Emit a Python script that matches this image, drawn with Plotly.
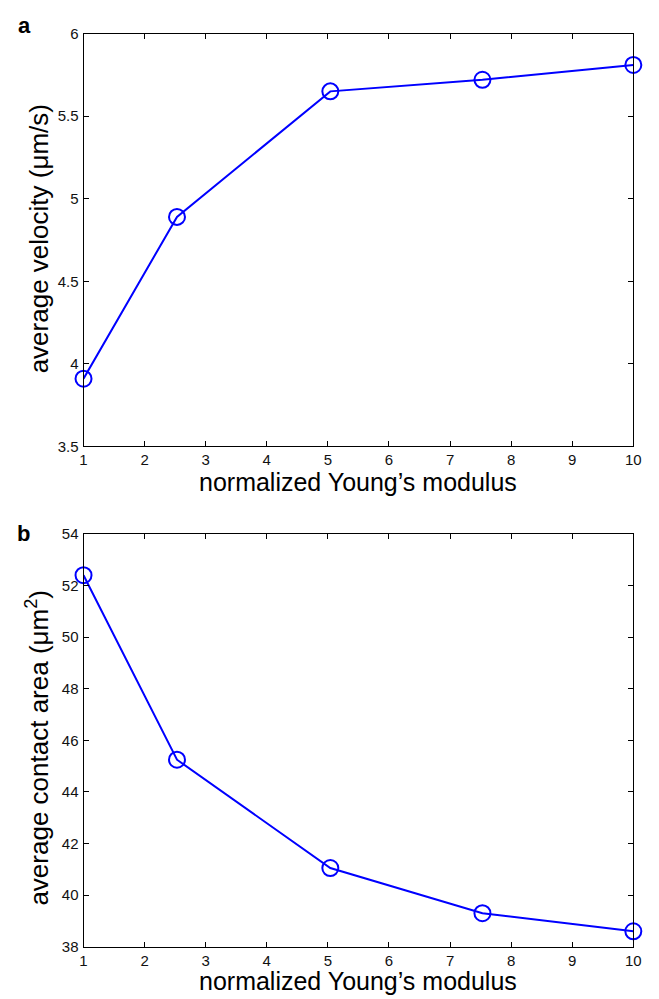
import plotly.graph_objects as go

# Data
modulus = [1, 2.53, 5.04, 7.53, 10]
velocity = [3.91, 4.89, 5.65, 5.72, 5.81]
contact_area = [52.4, 45.25, 41.05, 39.3, 38.6]

x_ticks = list(range(1, 11))
vel_ticks = [3.5, 4, 4.5, 5, 5.5, 6]
vel_tick_text = ["3.5", "4", "4.5", "5", "5.5", "6"]
area_ticks = [38, 40, 42, 44, 46, 48, 50, 52, 54]

W, H = 659, 999
FONT = "Liberation Sans, Arial, Helvetica, sans-serif"
BLUE = "#0000ff"

x0, x1 = 81, 641
a_top, a_bot = 25, 445
b_top, b_bot = 534, 954

def ydom(top, bot):
    return [1 - bot / H, 1 - top / H]

fig = go.Figure()
for xs, ys, ya in [(modulus, velocity, "y"), (modulus, contact_area, "y2")]:
    fig.add_trace(go.Scatter(
        x=xs, y=ys, xaxis="x" if ya == "y" else "x2", yaxis=ya,
        mode="lines+markers",
        line=dict(color=BLUE, width=2),
        marker=dict(symbol="circle-open", size=16, color=BLUE, line=dict(width=2, color=BLUE)),
        showlegend=False, cliponaxis=False,
    ))

axis_common = dict(
    showline=True, linecolor="black", linewidth=1, mirror="ticks",
    ticks="inside", ticklen=5, tickwidth=1, tickcolor="black",
    showgrid=False, zeroline=False,
    tickfont=dict(family=FONT, size=15, color="#111"),
)

fig.update_layout(
    width=W, height=H,
    margin=dict(l=0, r=0, t=0, b=0),
    paper_bgcolor="white", plot_bgcolor="white",
    xaxis=dict(domain=[x0 / W, x1 / W], range=[1, 10], tickvals=x_ticks,
               anchor="y", ticklabelstandoff=0, **axis_common),
    yaxis=dict(domain=ydom(a_top, a_bot), range=[3.5, 6], tickvals=vel_ticks,
               ticktext=vel_tick_text, anchor="x", ticklabelstandoff=1, **axis_common),
    xaxis2=dict(domain=[x0 / W, x1 / W], range=[1, 10], tickvals=x_ticks,
                anchor="y2", ticklabelstandoff=0, **axis_common),
    yaxis2=dict(domain=ydom(b_top, b_bot), range=[38, 54], tickvals=area_ticks,
                anchor="x2", ticklabelstandoff=1, **axis_common),
)

annos = [
    dict(text="<b>a</b>", x=21 / W, y=1 - 17 / H, size=22),
    dict(text="<b>b</b>", x=20 / W, y=1 - 534 / H, size=22),
    dict(text="normalized Young\u2019s modulus", x=(x0 + x1) / 2 / W, y=1 - 481 / H, size=25),
    dict(text="normalized Young\u2019s modulus", x=(x0 + x1) / 2 / W, y=1 - 989 / H, size=25),
]
for a in annos:
    fig.add_annotation(text=a["text"], x=a["x"], y=a["y"], xref="paper", yref="paper",
                       showarrow=False, xanchor="center", yanchor="middle",
                       font=dict(family=FONT, size=a["size"], color="black"))

fig.add_annotation(text="average velocity (\u03bcm/s)", x=36 / W, y=1 - 234 / H,
                   xref="paper", yref="paper", showarrow=False, textangle=-90,
                   xanchor="center", yanchor="middle",
                   font=dict(family=FONT, size=26, color="black"))
fig.add_annotation(text="average contact area (\u03bcm<sup>2</sup>)", x=34 / W, y=1 - 751 / H,
                   xref="paper", yref="paper", showarrow=False, textangle=-90,
                   xanchor="center", yanchor="middle",
                   font=dict(family=FONT, size=26, color="black"))

fig.write_html("out.html")
